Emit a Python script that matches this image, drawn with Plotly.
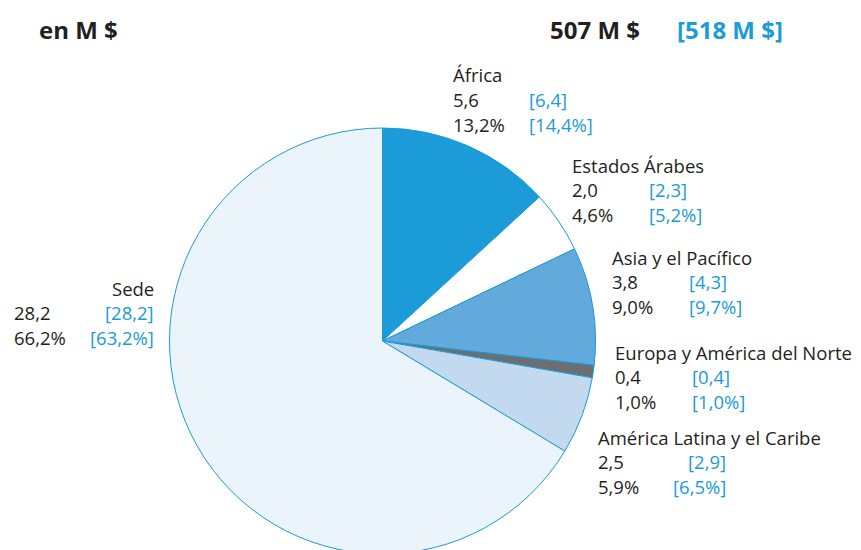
import plotly.graph_objects as go

# ---- data ----
regions = ["África", "Estados Árabes", "Asia y el Pacífico",
           "Europa y América del Norte", "América Latina y el Caribe", "Sede"]
values_m = [5.6, 2.0, 3.8, 0.4, 2.5, 28.2]
pct = [13.2, 4.6, 9.0, 1.0, 5.9, 66.2]
values_prev = [6.4, 2.3, 4.3, 0.4, 2.9, 28.2]
pct_prev = [14.4, 5.2, 9.7, 1.0, 6.5, 63.2]
total_current = 507
total_prev = 518
unit_label = "en M $"

# ---- styles ----
slice_colors = ["#1b9bd7", "#ffffff", "#62a9dc", "#6d6e71", "#c2d9ef", "#ebf3fb"]
BLUE = "#1b9bd7"
DARK = "#231f20"
FONT = "Open Sans"
FS = 18.5

W, H = 861, 570  # page clipped at 550 like the reference (pie runs off the bottom)
cx, cy, r = 382.5, 341, 213

fig = go.Figure(go.Pie(
    labels=regions, values=values_m, sort=False, direction="clockwise",
    rotation=0, textinfo="none", hoverinfo="label+value+percent",
    marker=dict(colors=slice_colors, line=dict(color=BLUE, width=1)),
    domain=dict(x=[(cx - r) / W, (cx + r) / W], y=[(H - cy - r) / H, (H - cy + r) / H]),
    showlegend=False,
))

def fmt(v, p=False):
    s = f"{v:.1f}".replace(".", ",")
    return s + "%" if p else s

# label layout: (x_left, y_name, x_blue, blue_anchor, name_anchor)
layout_pos = [
    (451, 75, 527, "left", "left"),
    (570, 165, 647, "left", "left"),
    (610, 257, 687, "left", "left"),
    (613, 352, 690, "left", "left"),
    (596, 437, 728, "right", "left"),
    (12, 288, 156, "right", "right"),
]
LH = 24.5
anns = []
def add(x, y, text, color, anchor, size=FS, bold=False):
    anns.append(dict(x=x / W, y=1 - y / H, xref="paper", yref="paper",
                     text=f"<b>{text}</b>" if bold else text, showarrow=False,
                     xanchor=anchor, yanchor="middle",
                     font=dict(family=FONT, size=size, color=color)))

for i, name in enumerate(regions):
    xl, yn, xb, banchor, nanchor = layout_pos[i]
    if nanchor == "right":
        add(xb, yn, name, DARK, "right")
    else:
        add(xl, yn, name, DARK, "left")
    add(xl, yn + LH, fmt(values_m[i]), DARK, "left")
    add(xl, yn + 2 * LH, fmt(pct[i], True), DARK, "left")
    add(xb, yn + LH, "[" + fmt(values_prev[i]) + "]", BLUE, banchor)
    add(xb, yn + 2 * LH, "[" + fmt(pct_prev[i], True) + "]", BLUE, banchor)

add(37, 30, unit_label, DARK, "left", size=24, bold=True)
add(548, 30, f"{total_current} M $", DARK, "left", size=24, bold=True)
add(675, 30, f"[{total_prev} M $]", BLUE, "left", size=24, bold=True)

fig.update_layout(
    width=W, height=H, margin=dict(l=0, r=0, t=0, b=0),
    paper_bgcolor="white", plot_bgcolor="white",
    annotations=anns,
)
fig.write_html("out.html", config={"displayModeBar": False},
               post_script="document.body.style.margin='0';document.body.style.overflow='hidden';")
